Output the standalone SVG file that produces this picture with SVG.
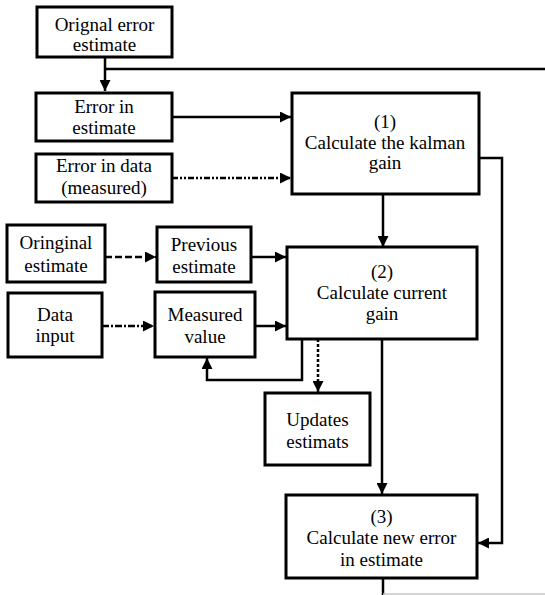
<svg xmlns="http://www.w3.org/2000/svg" width="545" height="595" viewBox="0 0 545 595">
<defs>
<marker id="ah" viewBox="0 0 10 10" refX="10" refY="5" markerWidth="4.4" markerHeight="4.4" orient="auto" markerUnits="strokeWidth">
<path d="M0,0 L10,5 L0,10 z" fill="#000"/>
</marker>
</defs>
<rect width="545" height="595" fill="#fff"/>
<g id="connectors" fill="none" stroke="#000" stroke-width="2.5">
<path d="M105,57 V91" marker-end="url(#ah)"/>
<path d="M105,69 H545"/>
<path d="M172,117 H291" marker-end="url(#ah)"/>
<path stroke-dasharray="6 2 2 2 2 2" d="M172,178 H291" marker-end="url(#ah)"/>
<path d="M383,194 V247" marker-end="url(#ah)"/>
<path d="M479,158 H502 V543 H478" marker-end="url(#ah)"/>
<path stroke-dasharray="7 3" d="M105,257 H156" marker-end="url(#ah)"/>
<path d="M251,257 H286" marker-end="url(#ah)"/>
<path stroke-dasharray="7 2 2 2" d="M102,326 H154" marker-end="url(#ah)"/>
<path d="M255,326 H286" marker-end="url(#ah)"/>
<path d="M302,339 V380 H207 V358" marker-end="url(#ah)"/>
<path stroke-dasharray="3 2" d="M318,339 V392" marker-end="url(#ah)"/>
<path d="M382,339 V494" marker-end="url(#ah)"/>
<path d="M383,578 V595"/>
<path d="M383,594 H545" stroke="#c8c8c8" stroke-width="1.5"/>
</g>
<g style="font-family:'Liberation Serif',serif;font-size:19px" text-anchor="middle" fill="#000">
<g id="n-orig-error">
<rect fill="#fff" stroke="#000" stroke-width="3" x="37" y="7" width="135" height="50"/>
<text x="104.5" y="31" style="font-family:'Liberation Serif',serif">Orignal error</text>
<text x="104.5" y="51" style="font-family:'Liberation Serif',serif">estimate</text>
</g>
<g id="n-error-estimate">
<rect fill="#fff" stroke="#000" stroke-width="3" x="36" y="93" width="136" height="48"/>
<text x="104" y="113" style="font-family:'Liberation Serif',serif">Error in</text>
<text x="104" y="134" style="font-family:'Liberation Serif',serif">estimate</text>
</g>
<g id="n-error-data">
<rect fill="#fff" stroke="#000" stroke-width="3" x="36" y="154" width="136" height="48"/>
<text x="104" y="172" style="font-family:'Liberation Serif',serif">Error in data</text>
<text x="104" y="194" style="font-family:'Liberation Serif',serif">(measured)</text>
</g>
<g id="n-kalman">
<rect fill="#fff" stroke="#000" stroke-width="3" x="292" y="93" width="187" height="101"/>
<text x="385" y="128" style="font-family:'Liberation Serif',serif">(1)</text>
<text x="385" y="149" style="font-family:'Liberation Serif',serif">Calculate the kalman</text>
<text x="385" y="169" style="font-family:'Liberation Serif',serif">gain</text>
</g>
<g id="n-oringinal">
<rect fill="#fff" stroke="#000" stroke-width="3" x="7" y="225" width="98" height="57"/>
<text x="56" y="249" style="font-family:'Liberation Serif',serif">Oringinal</text>
<text x="56" y="272" style="font-family:'Liberation Serif',serif">estimate</text>
</g>
<g id="n-previous">
<rect fill="#fff" stroke="#000" stroke-width="3" x="157" y="227" width="94" height="55"/>
<text x="204" y="251" style="font-family:'Liberation Serif',serif">Previous</text>
<text x="204" y="273" style="font-family:'Liberation Serif',serif">estimate</text>
</g>
<g id="n-data-input">
<rect fill="#fff" stroke="#000" stroke-width="3" x="8" y="293" width="94" height="64"/>
<text x="55" y="321" style="font-family:'Liberation Serif',serif">Data</text>
<text x="55" y="342" style="font-family:'Liberation Serif',serif">input</text>
</g>
<g id="n-measured">
<rect fill="#fff" stroke="#000" stroke-width="3" x="155" y="292" width="100" height="65"/>
<text x="205" y="321" style="font-family:'Liberation Serif',serif">Measured</text>
<text x="205" y="343" style="font-family:'Liberation Serif',serif">value</text>
</g>
<g id="n-current-gain">
<rect fill="#fff" stroke="#000" stroke-width="3" x="287" y="247" width="190" height="92"/>
<text x="382" y="278" style="font-family:'Liberation Serif',serif">(2)</text>
<text x="382" y="299" style="font-family:'Liberation Serif',serif">Calculate current</text>
<text x="382" y="320" style="font-family:'Liberation Serif',serif">gain</text>
</g>
<g id="n-updates">
<rect fill="#fff" stroke="#000" stroke-width="3" x="265" y="393" width="105" height="72"/>
<text x="317.5" y="426" style="font-family:'Liberation Serif',serif">Updates</text>
<text x="317.5" y="448" style="font-family:'Liberation Serif',serif">estimats</text>
</g>
<g id="n-new-error">
<rect fill="#fff" stroke="#000" stroke-width="3" x="286" y="495" width="191" height="83"/>
<text x="381.5" y="523" style="font-family:'Liberation Serif',serif">(3)</text>
<text x="381.5" y="544" style="font-family:'Liberation Serif',serif">Calculate new error</text>
<text x="381.5" y="566" style="font-family:'Liberation Serif',serif">in estimate</text>
</g>
</g>
</svg>
